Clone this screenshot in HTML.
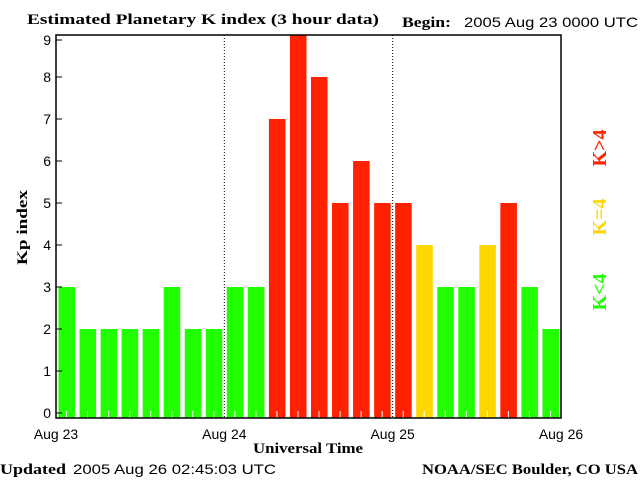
<!DOCTYPE html>
<html><head><meta charset="utf-8"><style>
body{margin:0;background:#fff}
svg{display:block}
.t{font-family:"Liberation Sans",sans-serif;font-size:14px;fill:#000}
.b{font-family:"Liberation Serif",serif;font-weight:bold;font-size:15px;fill:#000}
</style></head><body>
<svg id="c" width="640" height="480" viewBox="0 0 640 480">
<text class="b" x="27" y="24" textLength="352" lengthAdjust="spacingAndGlyphs">Estimated Planetary K index (3 hour data)</text>
<text class="b" x="402" y="27" textLength="49" lengthAdjust="spacingAndGlyphs">Begin:</text>
<text class="t" x="464" y="27" textLength="174" lengthAdjust="spacingAndGlyphs">2005 Aug 23 0000 UTC</text>
<text class="b" x="0" y="474" textLength="66" lengthAdjust="spacingAndGlyphs">Updated</text>
<text class="t" x="73" y="474" textLength="203" lengthAdjust="spacingAndGlyphs">2005 Aug 26 02:45:03 UTC</text>
<text class="b" x="422" y="474" textLength="216" lengthAdjust="spacingAndGlyphs">NOAA/SEC Boulder, CO USA</text>
<text class="b" x="253" y="453" textLength="110" lengthAdjust="spacingAndGlyphs">Universal Time</text>
<text class="b" transform="translate(27,265) rotate(-90)" textLength="75" lengthAdjust="spacingAndGlyphs">Kp index</text>
<text class="b" transform="translate(606,292) rotate(-90)" text-anchor="middle" style="fill:#22ff00;font-size:20px">K&lt;4</text>
<text class="b" transform="translate(606,217) rotate(-90)" text-anchor="middle" style="fill:#ffd700;font-size:20px">K=4</text>
<text class="b" transform="translate(606,148) rotate(-90)" text-anchor="middle" style="fill:#ff2200;font-size:20px">K&gt;4</text>
<g id="g"></g>
</svg>
<script>
const kpValues=[3,2,2,2,2,3,2,2,3,3,7,9,8,5,6,5,5,4,3,3,4,5,3,2];
const yTicks=[0,1,2,3,4,5,6,7,8,9];
const dayLabels=["Aug 23","Aug 24","Aug 25","Aug 26"];
const NS="http://www.w3.org/2000/svg";
const g=document.getElementById('g');
const L=56,R=561,T=35,B=418;
const slot=(R-L)/kpValues.length;
function xs(i){return L+slot*i;}
function ys(v){return 413-42*v;}
function mk(tag,attrs){const e=document.createElementNS(NS,tag);for(const k in attrs)e.setAttribute(k,attrs[k]);g.appendChild(e);return e;}
kpValues.forEach((v,i)=>{
  const col=v<4?'#22ff00':(v===4?'#ffd700':'#ff2200');
  const r=mk('rect',{x:xs(i)+2.5,y:ys(v),width:slot-4.5,height:B-ys(v),fill:col});
  
  
  const tk=mk('line',{x1:xs(i)+slot/2,x2:xs(i)+slot/2,y1:B-7,y2:B,stroke:'#fff','stroke-width':1});
  
  
});
[1,2].forEach(d=>{
  const x=L+(R-L)*d/3;
  const ln=mk('line',{x1:x,x2:x,y1:T,y2:B,stroke:'#000','stroke-dasharray':'1,2'});
  
  
});
const box=mk('rect',{x:L,y:T,width:R-L,height:B-T,fill:'none',stroke:'#000','stroke-width':1.5});


yTicks.forEach(v=>{
  const y=Math.max(ys(v),40);
  const tk=mk('line',{x1:L,x2:L+6,y1:y,y2:y,stroke:'#000'});
  
  
  const t=mk('text',{x:L-5,y:y+5,'text-anchor':'end',class:'t'});
  t.textContent=v;
  
  
});
dayLabels.forEach((s,d)=>{
  const x=L+(R-L)*d/(dayLabels.length-1);
  const t=mk('text',{x:x,y:439,'text-anchor':'middle',class:'t'});
  t.textContent=s;
  
  
});
</script>
</body></html>
